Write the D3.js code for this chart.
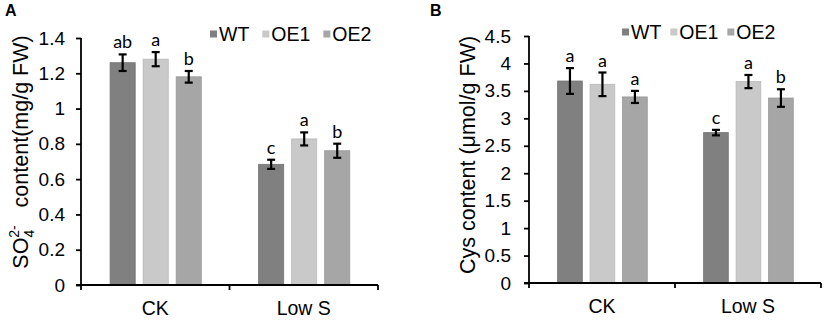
<!DOCTYPE html>
<html>
<head>
<meta charset="utf-8">
<script src="https://cdn.jsdelivr.net/npm/d3@7"></script>
<style>
  body { margin: 0; background: #fff; }
  svg { display: block; }
  .tick text { font-family: "Liberation Sans", Arial, sans-serif; font-size: 19px; fill: #000; }
</style>
</head>
<body>
<div id="chart"></div>
<script>
// data
var categories = ["CK", "Low S"];
var seriesNames = ["WT", "OE1", "OE2"];
var seriesColors = ["#808080", "#c9c9c9", "#a6a6a6"];

// panel A: sulfate content, rows = categories, cols = series
var so4Mean = [[1.26, 1.28, 1.18], [0.684, 0.828, 0.761]];
var so4Err = [[0.047, 0.04, 0.033], [0.026, 0.037, 0.04]];
var so4Letters = [["ab", "a", "b"], ["c", "a", "b"]];
var so4Ticks = [0, 0.2, 0.4, 0.6, 0.8, 1, 1.2, 1.4];

// panel B: cysteine content
var cysMean = [[3.68, 3.62, 3.39], [2.74, 3.67, 3.37]];
var cysErr = [[0.235, 0.215, 0.11], [0.05, 0.12, 0.16]];
var cysLetters = [["a", "a", "a"], ["c", "a", "b"]];
var cysTicks = [0, 0.5, 1, 1.5, 2, 2.5, 3, 3.5, 4, 4.5];

var svg = d3.select("#chart").append("svg")
    .attr("width", 829)
    .attr("height", 321);

function drawPanel(opts){
    var g = svg.append("g").attr("transform", "translate(" + opts.left + "," + opts.top + ")");
    var width = opts.width, height = opts.height;

    var y = d3.scaleLinear()
        .domain([0, d3.max(opts.ticks)])
        .range([height, 0]);

    var x0 = d3.scaleBand()
        .domain(categories)
        .range([0, width]);

    var cw = x0.bandwidth();
    var x1 = d3.scaleBand()
        .domain(seriesNames)
        .range([cw * 0.196, cw * 0.81])
        .paddingInner(0.24);

    // bars
    categories.forEach(function(cat, ci){
        var gc = g.append("g").attr("transform", "translate(" + x0(cat) + ",0)");
        seriesNames.forEach(function(s, si){
            var v = opts.mean[ci][si], e = opts.err[ci][si];
            var bx = x1(s), bw = x1.bandwidth(), cx = bx + bw / 2;
            gc.append("rect")
                .attr("x", bx)
                .attr("y", y(v))
                .attr("width", bw)
                .attr("height", height - y(v))
                .attr("fill", seriesColors[si])
                .attr("stroke", d3.color(seriesColors[si]).darker(0.25))
                .attr("stroke-width", 0.8);
            // error bar
            var eb = gc.append("g")
                .attr("stroke", "#000")
                .attr("stroke-width", 2.2);
            eb.append("line").attr("x1", cx).attr("x2", cx).attr("y1", y(v + e)).attr("y2", y(v - e));
            eb.append("line").attr("x1", cx - 4).attr("x2", cx + 4).attr("y1", y(v + e)).attr("y2", y(v + e));
            eb.append("line").attr("x1", cx - 4).attr("x2", cx + 4).attr("y1", y(v - e)).attr("y2", y(v - e));
            // letters
            gc.append("text")
                .attr("x", cx)
                .attr("y", y(v + e) - 6)
                .attr("text-anchor", "middle")
                .style("font-family", "Lato, 'Open Sans', sans-serif")
                .style("font-size", "18px")
                .text(opts.letters[ci][si]);
        });
    });

    // y axis
    var yAxis = d3.axisLeft(y)
        .tickValues(opts.ticks)
        .tickSize(5)
        .tickPadding(opts.tickPad)
        .tickFormat(function(d){ return d3.format("~g")(d); });
    var ya = g.append("g").call(yAxis);
    ya.selectAll("path, line").attr("stroke", "#000").attr("stroke-width", 1.8);
    ya.select(".domain").attr("d", "M0," + (height + 1) + "V0");

    // x axis with boundary ticks
    var xa = g.append("g").attr("transform", "translate(0," + height + ")");
    xa.append("line").attr("x1", -5).attr("x2", width).attr("stroke", "#000").attr("stroke-width", 1.8);
    [0, 1, 2].forEach(function(i){
        var tx = i * cw;
        xa.append("line").attr("x1", tx).attr("x2", tx).attr("y1", 0).attr("y2", 5)
            .attr("stroke", "#000").attr("stroke-width", 1.8);
    });
    categories.forEach(function(cat){
        xa.append("text")
            .attr("x", x0(cat) + cw / 2)
            .attr("y", 30)
            .attr("text-anchor", "middle")
            .style("font-family", "'Liberation Sans', Arial, sans-serif")
            .style("font-size", "19.5px")
            .text(cat);
    });

    // y title
    var yt = svg.append("text")
        .attr("transform", "translate(" + opts.titleX + "," + opts.titleY + ") rotate(-90)")
        .attr("text-anchor", "middle")
        .style("font-family", "'Liberation Sans', Arial, sans-serif")
        .style("font-size", "21.5px");
    opts.title(yt);

    // legend
    var lg = svg.append("g").attr("transform", "translate(" + opts.legendX + "," + opts.legendY + ")");
    var lx = 0;
    seriesNames.forEach(function(s, si){
        lg.append("rect")
            .attr("x", lx)
            .attr("y", -3.5)
            .attr("width", 7)
            .attr("height", 7)
            .attr("fill", seriesColors[si]);
        var t = lg.append("text")
            .attr("x", lx + 9)
            .attr("y", 7)
            .style("font-family", "'Liberation Sans', Arial, sans-serif")
            .style("font-size", "19.5px")
            .text(s);
        lx += 9 + t.node().getComputedTextLength() + opts.legendGap;
    });

    // panel letter
    svg.append("text")
        .attr("x", opts.letterX)
        .attr("y", 16)
        .style("font-family", "'Liberation Sans', Arial, sans-serif")
        .style("font-weight", "bold")
        .style("font-size", "16px")
        .text(opts.letter);
}

drawPanel({
    left: 81, top: 38, width: 297, height: 247,
    ticks: so4Ticks, mean: so4Mean, err: so4Err, letters: so4Letters,
    tickPad: 11,
    titleX: 28, titleY: 152,
    title: function(t){
        t.append("tspan").text("SO");
        t.append("tspan").attr("dy", 6).style("font-size", "14px").text("4");
        t.append("tspan").attr("dy", -15).attr("dx", -8).style("font-size", "14px").text("2-");
        t.append("tspan").attr("dy", 9).text("\u00a0\u00a0\u00a0content(mg/g FW)");
    },
    legendX: 210, legendY: 34, legendGap: 13,
    letter: "A", letterX: 5
});

drawPanel({
    left: 529, top: 36, width: 292, height: 247,
    ticks: cysTicks, mean: cysMean, err: cysErr, letters: cysLetters,
    tickPad: 13,
    titleX: 475, titleY: 155,
    title: function(t){
        t.text("Cys content (\u03bcmol/g FW)");
    },
    legendX: 622, legendY: 32, legendGap: 9,
    letter: "B", letterX: 430
});
</script>
</body>
</html>
